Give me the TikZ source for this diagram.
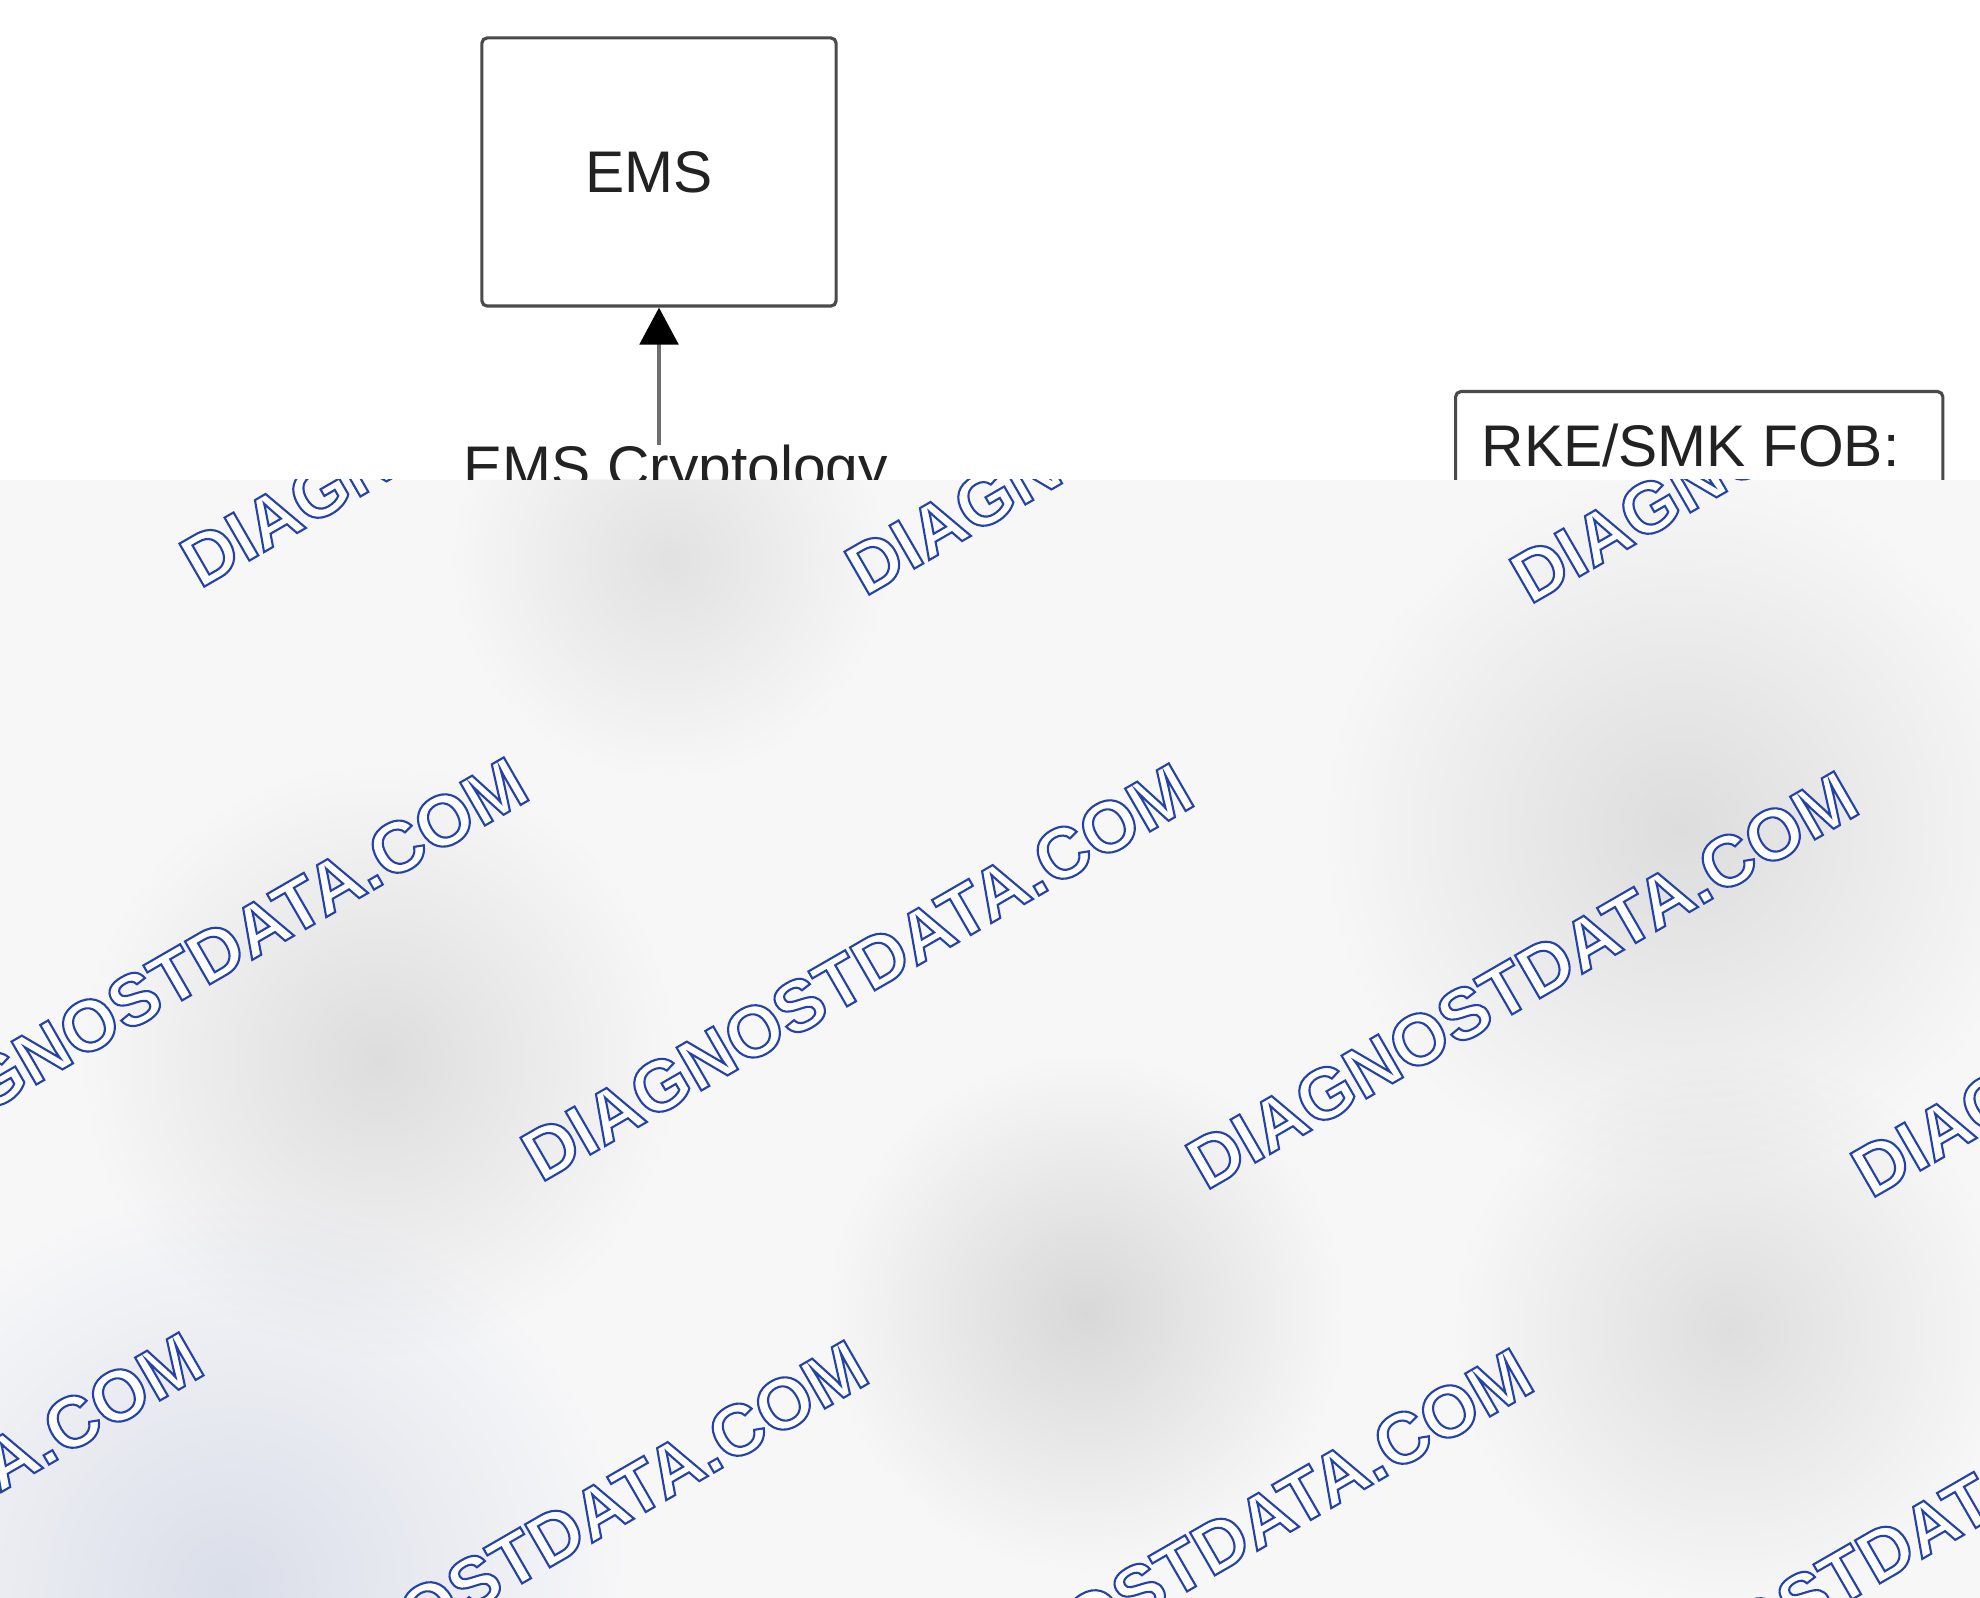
\documentclass[tikz,border=0pt]{standalone}
\usepackage{fontspec}
\setmainfont{Liberation Sans}
\usetikzlibrary{arrows.meta,positioning}

\definecolor{boxgray}{HTML}{4A4A4A}
\definecolor{linegray}{HTML}{6E6E6E}
\definecolor{textgray}{HTML}{222222}
\definecolor{overlaybg}{HTML}{F7F7F8}
\definecolor{blobgray}{HTML}{E0E0E0}
\definecolor{blobblue}{HTML}{E2E6F0}

% outlined watermark text (white fill, blue stroke)
\newcommand{\wmtext}{\special{pdf:literal direct 0.14 0.26 0.66 RG 0.6 w 2 Tr}DIAGNOSTDATA.COM\special{pdf:literal direct 0 Tr}}

\tikzset{
  box/.style={draw=boxgray, line width=0.9pt, rounded corners=1.5pt, fill=white,
    font=\fontsize{16.7}{20}\selectfont, text=textgray},
  lbl/.style={inner sep=0pt, font=\fontsize{16.7}{20}\selectfont, text=textgray},
  arr/.style={draw=linegray, line width=0.9pt, -{Triangle[length=10.5pt,width=11pt,color=black]}},
  blob/.style={blend mode=multiply, outer color=white},
  wm/.style={rotate=30, inner sep=0pt, text=white, font=\fontsize{20.5}{24}\selectfont\bfseries}
}

\begin{document}
\begin{tikzpicture}[x=0.01cm, y=-0.01cm]
  \useasboundingbox (0,0) rectangle (1980,1598);

  \node [box, minimum width=3.54cm, minimum height=2.68cm] (ems) at (659,172) {EMS\hspace*{0.2cm}};
  \node [lbl, anchor=base west] (cryp) at (463,488) {EMS Cryptology};
  \draw [arr] (cryp.north -| ems.south) -- (ems.south);

  \node [box, anchor=north west, minimum width=4.87cm, minimum height=3cm] (fob) at (1454,390) {};
  \node [lbl, below right=0.33cm and 0.27cm of fob.north west] (fobtext) {RKE/SMK FOB:};

  % blurred lower part with watermark
  \begin{scope}
    \clip (0,480) rectangle (1980,1598);
    \fill [overlaybg] (0,480) rectangle (1980,1598);
    \shade [blob, inner color=blobgray!75!black!30!white] (379,1061) circle (3cm);
    \shade [blob, inner color=blobgray!75!black!30!white] (1680,830) circle (3.6cm);
    \shade [blob, inner color=blobgray] (1086,1313) circle (2.6cm);
    \shade [blob, inner color=blobgray!70!white] (669,560) circle (2.2cm);
    \shade [blob, inner color=blobgray!80!white] (1730,1330) circle (2.8cm);
    \shade [blob, inner color=blobblue] (230,1590) circle (4cm);

    \node [wm] (wm1b) at (516,378) {\wmtext};
    \node [wm] (wm1c) at (1181,386) {\wmtext};
    \node [wm] (wm1d) at (1846,394) {\wmtext};
    \node [wm] (wm2a) at (192,966) {\wmtext};
    \node [wm] (wm2b) at (857,972) {\wmtext};
    \node [wm] (wm2c) at (1522,980) {\wmtext};
    \node [wm] (wm2d) at (2187,988) {\wmtext};
    \node [wm] (wm3a) at (-133,1541) {\wmtext};
    \node [wm] (wm3b) at (532,1549) {\wmtext};
    \node [wm] (wm3c) at (1197,1557) {\wmtext};
    \node [wm] (wm3d) at (1862,1565) {\wmtext};
  \end{scope}
\end{tikzpicture}
\end{document}
